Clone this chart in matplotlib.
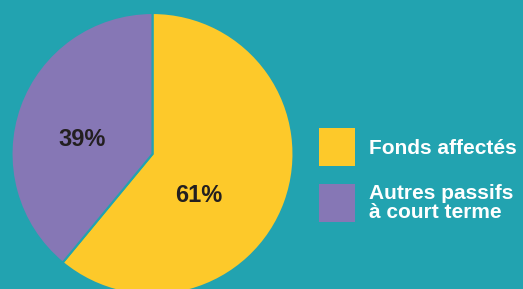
import matplotlib
matplotlib.use('Agg')
import matplotlib.pyplot as plt
from matplotlib.patches import Rectangle

plt.rcParams['font.family'] = ['Liberation Sans', 'DejaVu Sans']

# data
labels = ['Fonds affectés', 'Autres passifs\nà court terme']
values = [61, 39]
pct_text = ['61%', '39%']
colors = ['#FDC92A', '#8677B5']
bg = '#22A3B0'

fig = plt.figure(figsize=(5.23, 2.89), dpi=100)
fig.patch.set_facecolor(bg)
ax = fig.add_axes([0, 0, 1, 1])

# pie in pixel-like coordinates (y up)
cx, cy, r = 152.5, 135, 141
ax.pie(values, colors=colors, startangle=90, counterclock=False,
       center=(cx, cy), radius=r, frame=True,
       wedgeprops=dict(edgecolor=bg, linewidth=1.5))
ax.set_xlim(0, 523)
ax.set_ylim(0, 289)
ax.set_aspect('equal')
ax.axis('off')

# percent labels, offsets from centre
pct_pos = [(cx + 46, cy - 42), (cx - 70, cy + 15)]
for t, (x, y) in zip(pct_text, pct_pos):
    ax.text(x, y, t, ha='center', va='center', fontsize=17,
            fontweight='bold', color='#231F20')

# legend
box_y = [123, 67]
text_y = [141, 86]
for lab, c, by, ty in zip(labels, colors, box_y, text_y):
    ax.add_patch(Rectangle((319, by), 36, 38, facecolor=c, edgecolor='none'))
    ax.text(369, ty, lab, ha='left', va='center', fontsize=15,
            fontweight='bold', color='white', linespacing=1.0)

fig.savefig('out.png', dpi=100, facecolor=bg)
